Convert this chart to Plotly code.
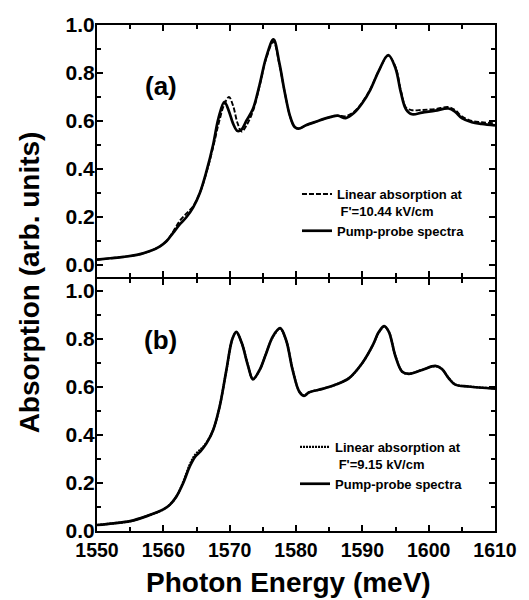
import plotly.graph_objects as go

# ---------------- data ----------------
energy_a = [1550, 1552, 1554, 1556, 1558, 1559.5, 1560.5, 1561.5, 1562.5, 1563.5,
            1564.5, 1565.5, 1566.5, 1567.5, 1568.3, 1569.2, 1569.9, 1570.5, 1571.2, 1571.8,
            1572.5, 1573.5, 1574.5, 1575.5, 1576.6, 1577.5, 1578.3, 1579.1, 1579.8, 1580.4,
            1581.5, 1583, 1585, 1586.3, 1587.5, 1588.8, 1590, 1591.2, 1592.5, 1593.9,
            1595, 1595.8, 1596.6, 1597.5, 1599, 1601, 1603, 1604, 1605, 1606.5,
            1608, 1610]
pump_a = [0.022, 0.028, 0.034, 0.042, 0.058, 0.078, 0.100, 0.135, 0.170, 0.200,
          0.240, 0.300, 0.390, 0.500, 0.610, 0.680, 0.640, 0.590, 0.558, 0.565,
          0.600, 0.650, 0.750, 0.865, 0.940, 0.840, 0.720, 0.620, 0.575, 0.568,
          0.582, 0.597, 0.615, 0.622, 0.612, 0.635, 0.675, 0.730, 0.810, 0.875,
          0.820, 0.720, 0.648, 0.628, 0.635, 0.643, 0.652, 0.638, 0.612, 0.595,
          0.588, 0.582]
linear_a = [0.022, 0.028, 0.034, 0.042, 0.058, 0.078, 0.100, 0.140, 0.185, 0.215,
            0.245, 0.300, 0.385, 0.490, 0.585, 0.670, 0.700, 0.665, 0.590, 0.556,
            0.580, 0.640, 0.745, 0.860, 0.930, 0.835, 0.720, 0.620, 0.575, 0.568,
            0.582, 0.597, 0.615, 0.622, 0.620, 0.640, 0.678, 0.732, 0.810, 0.872,
            0.825, 0.728, 0.655, 0.645, 0.646, 0.650, 0.658, 0.645, 0.620, 0.600,
            0.595, 0.590]

energy_b = [1550, 1552.5, 1555, 1557.5, 1560, 1561, 1562, 1563, 1564, 1564.8,
            1565.6, 1566.5, 1567.5, 1568.5, 1569.5, 1570.4, 1571, 1571.8, 1572.8, 1573.5,
            1574.5, 1575.5, 1576.5, 1577.6, 1578.5, 1579.5, 1580.5, 1581.2, 1582, 1584,
            1586, 1588, 1590, 1591.5, 1592.5, 1593.3, 1594, 1595, 1596, 1597,
            1599, 1601, 1602, 1603, 1604, 1606, 1610]
pump_b = [0.025, 0.032, 0.041, 0.062, 0.090, 0.110, 0.145, 0.200, 0.270, 0.310,
          0.332, 0.365, 0.420, 0.520, 0.670, 0.800, 0.830, 0.785, 0.685, 0.632,
          0.670, 0.740, 0.810, 0.845, 0.796, 0.670, 0.580, 0.563, 0.578, 0.592,
          0.610, 0.637, 0.700, 0.770, 0.830, 0.854, 0.830, 0.727, 0.664, 0.655,
          0.671, 0.688, 0.675, 0.637, 0.610, 0.602, 0.593]
linear_b = [0.025, 0.032, 0.041, 0.062, 0.090, 0.110, 0.145, 0.205, 0.278, 0.318,
            0.340, 0.368, 0.420, 0.520, 0.668, 0.800, 0.828, 0.785, 0.687, 0.634,
            0.670, 0.740, 0.808, 0.842, 0.796, 0.672, 0.582, 0.565, 0.578, 0.592,
            0.610, 0.637, 0.700, 0.770, 0.828, 0.852, 0.830, 0.728, 0.665, 0.655,
            0.671, 0.687, 0.675, 0.638, 0.611, 0.602, 0.594]

x_ticks = [1550, 1560, 1570, 1580, 1590, 1600, 1610]
y_ticks = [0.0, 0.2, 0.4, 0.6, 0.8, 1.0]

# ---------------- geometry ----------------
W, H = 529, 600
L, R, T, B = 97, 503, 25, 531
FONT = "Liberation Sans, Arial, sans-serif"
GAP = 2.0 / (B - T)   # so the two panels' shared frame lines coincide


def px2x(px):
    return (px - L) / (R - L)


def px2y(py):
    return (B - py) / (B - T)


fig = go.Figure()

fig.add_trace(go.Scatter(x=energy_a, y=linear_a, mode="lines", line_shape="spline",
                         line=dict(color="black", width=1.9, dash="5px,2px"),
                         name="Linear absorption at<br>\u00a0F'=10.44 kV/cm",
                         xaxis="x", yaxis="y", legend="legend"))
fig.add_trace(go.Scatter(x=energy_a, y=pump_a, mode="lines", line_shape="spline",
                         line=dict(color="black", width=2.7),
                         name="Pump-probe spectra",
                         xaxis="x", yaxis="y", legend="legend"))
fig.add_trace(go.Scatter(x=energy_b, y=linear_b, mode="lines", line_shape="spline",
                         line=dict(color="black", width=2.2, dash="2px,1px"),
                         name="Linear absorption at<br>\u00a0F'=9.15 kV/cm",
                         xaxis="x2", yaxis="y2", legend="legend2"))
fig.add_trace(go.Scatter(x=energy_b, y=pump_b, mode="lines", line_shape="spline",
                         line=dict(color="black", width=2.7),
                         name="Pump-probe spectra",
                         xaxis="x2", yaxis="y2", legend="legend2"))

axis_common = dict(showline=True, linecolor="black", linewidth=2, mirror="allticks",
                   ticks="inside", tickcolor="black", tickwidth=2, ticklen=6,
                   showgrid=False, zeroline=False)
x_font = dict(family=FONT, size=19.5, color="black", weight="bold")
y_font = dict(family=FONT, size=21, color="black", weight="bold")

x_minor = dict(dtick=5, tick0=1550, ticks="inside", ticklen=4, tickwidth=1.5,
               tickcolor="black")
y_minor = dict(dtick=0.1, tick0=0, ticks="inside", ticklen=4, tickwidth=1.5,
               tickcolor="black")
legend_font = dict(family=FONT, size=13, color="black", weight="bold")

fig.update_layout(
    width=W, height=H,
    margin=dict(l=L, r=W - R, t=T, b=H - B),
    paper_bgcolor="white", plot_bgcolor="white",
    xaxis=dict(**axis_common, range=[1550, 1610], tickvals=x_ticks, tickfont=x_font,
               showticklabels=False, anchor="y", matches="x2", minor=x_minor),
    xaxis2=dict(**axis_common, range=[1550, 1610], tickvals=x_ticks, tickfont=x_font,
                anchor="y2", ticklabelstandoff=1, minor=x_minor),
    yaxis=dict(**axis_common, range=[-0.05, 1.0], tickvals=y_ticks, tickformat=".1f",
               tickfont=y_font, domain=[0.5 + GAP / 2, 1.0], anchor="x",
               ticklabelstandoff=-4, minor=y_minor),
    yaxis2=dict(**axis_common, range=[0.0, 1.05], tickvals=y_ticks, tickformat=".1f",
                tickfont=y_font, domain=[0.0, 0.5 - GAP / 2], anchor="x2",
                ticklabelstandoff=-4, minor=y_minor),
    legend=dict(x=px2x(301), y=px2y(179), xanchor="left", yanchor="top",
                bgcolor="rgba(0,0,0,0)", borderwidth=0, valign="top",
                font=legend_font, tracegroupgap=0, itemwidth=30),
    legend2=dict(x=px2x(299), y=px2y(432), xanchor="left", yanchor="top",
                 bgcolor="rgba(0,0,0,0)", borderwidth=0, valign="top",
                 font=legend_font, tracegroupgap=0, itemwidth=30),
    showlegend=True,
)

annots = [
    dict(text="(a)", x=px2x(162), y=px2y(86)),
    dict(text="(b)", x=px2x(162), y=px2y(340)),
]
for a in annots:
    fig.add_annotation(text=a["text"], x=a["x"], y=a["y"], xref="paper", yref="paper",
                       showarrow=False, xanchor="center", yanchor="middle",
                       font=dict(family=FONT, size=26, color="black", weight="bold"))

fig.add_annotation(text="Photon Energy (meV)", x=px2x(292), y=px2y(582),
                   xref="paper", yref="paper", showarrow=False,
                   xanchor="center", yanchor="middle",
                   font=dict(family=FONT, size=28, color="black", weight="bold"))
fig.add_annotation(text="Absorption (arb. units)", x=px2x(28), y=px2y(282),
                   xref="paper", yref="paper", showarrow=False, textangle=-90,
                   xanchor="center", yanchor="middle",
                   font=dict(family=FONT, size=28, color="black", weight="bold"))

fig.write_html("out.html")
